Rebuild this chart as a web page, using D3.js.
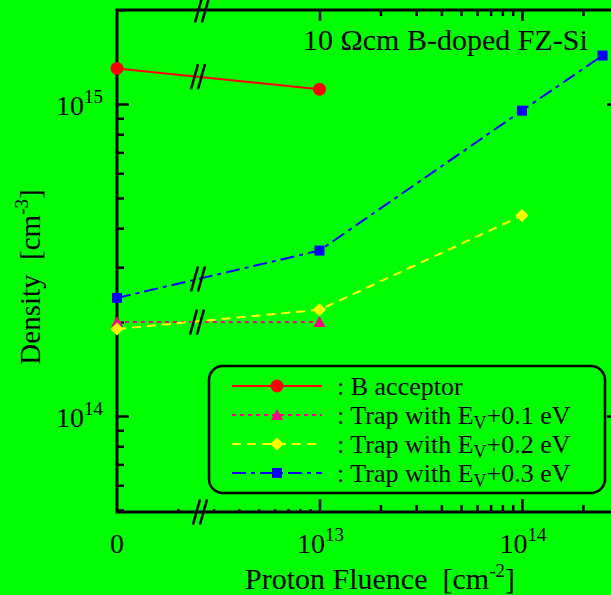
<!doctype html>
<html>
  <head>
    <meta charset="utf-8">
    <title>Density vs proton fluence</title>
    <script src="https://cdnjs.cloudflare.com/ajax/libs/d3/7.8.5/d3.min.js"></script>
    <style>
      body { margin: 0; background: #00ff00; }
      svg { display: block; font-family: "Liberation Serif", "Times New Roman", serif; }
    </style>
  </head>
  <body>
    <div id="chart"></div>
    <script>
      // fluence in cm^-2 (0 = unirradiated), density in cm^-3
      const fluence = [0, 1e13, 1e14, 2.5e14];
      const bAcceptor = [1.30e15, 1.115e15];
      const trap01 = [2.0e14, 2.0e14];
      const trap02 = [1.90e14, 2.19e14, 4.39e14];
      const trap03 = [2.39e14, 3.39e14, 9.52e14, 1.43e15];

      const seriesNames = [": B acceptor", ": Trap with E", ": Trap with E", ": Trap with E"];
      const seriesLevels = ["", "+0.1 eV", "+0.2 eV", "+0.3 eV"];
      const xTickLabels = [["0", ""], ["10", "13"], ["10", "14"]];
      const yTickLabels = [["10", "15"], ["10", "14"]];

      const W = 611, H = 595;
      const plotL = 117, plotR = 619, plotT = 10, plotB = 512;

      const svg = d3.select('#chart').append('svg')
        .attr('width', W).attr('height', H);

      svg.append('rect').attr('width', W).attr('height', H).attr('fill', '#00ff00');

      // log scales, zero fluence sits where 1e12 would be
      const x = d3.scaleLog().domain([1e12, 1e14]).range([plotL, 522]);
      const y = d3.scaleLog().domain([1e14, 1e15]).range([416, 104]);
      const fx = v => v === 0 ? x(1e12) : x(v);

      const series = [
        { vals: bAcceptor, color: '#ff0000', dash: null, marker: 'circle' },
        { vals: trap01, color: '#ff0080', dash: '4,4', marker: 'triangle' },
        { vals: trap02, color: '#ffff00', dash: '9,6', marker: 'diamond' },
        { vals: trap03, color: '#0000ff', dash: '14,5,4,5', marker: 'square' }
      ];

      // ---- axes (ticks only, frame drawn after)
      const majorX = [1e13, 1e14];
      const minorXlow = d3.range(2, 10).map(k => k * 1e12);
      const minorXhigh = d3.range(2, 10).map(k => k * 1e13).concat([2e14, 3e14]);
      const majorY = [1e14, 1e15];
      const minorY = d3.range(5, 10).map(k => k * 1e13)
        .concat(d3.range(2, 10).map(k => k * 1e14)).concat([2e15]);

      function tickAxis(axisFn, scale, vals, size, tx, ty) {
        const g = svg.append('g').attr('transform', `translate(${tx},${ty})`)
          .call(axisFn(scale).tickValues(vals).tickSize(size).tickFormat(''));
        g.select('.domain').remove();
        g.selectAll('line').attr('stroke', '#000').attr('stroke-width', 2.5);
        return g;
      }
      tickAxis(d3.axisBottom, x, majorX, -13, 0, plotB);
      tickAxis(d3.axisBottom, x, minorXhigh, -7, 0, plotB);
      tickAxis(d3.axisBottom, x, minorXlow, -3, 0, plotB);
      tickAxis(d3.axisTop, x, majorX, -11, 0, plotT);
      tickAxis(d3.axisTop, x, minorXhigh, -6, 0, plotT);
      tickAxis(d3.axisLeft, y, majorY, -12, plotL, 0);
      tickAxis(d3.axisLeft, y, minorY, -7, plotL, 0);
      tickAxis(d3.axisRight, y, majorY, -12, plotR, 0);
      tickAxis(d3.axisRight, y, minorY, -7, plotR, 0);

      svg.append('rect')
        .attr('x', plotL).attr('y', plotT)
        .attr('width', plotR - plotL).attr('height', plotB - plotT)
        .attr('fill', 'none').attr('stroke', '#000').attr('stroke-width', 3);

      // break marks
      function breakMark(cx, cy) {
        [-3.5, 3.5].forEach(dx => {
          svg.append('line')
            .attr('x1', cx + dx - 3.5).attr('y1', cy + 12.5)
            .attr('x2', cx + dx + 3.5).attr('y2', cy - 12.5)
            .attr('stroke', '#000').attr('stroke-width', 2.5);
        });
      }
      const xBreak = 200;
      breakMark(xBreak, plotB);
      breakMark(xBreak + 2, plotT);

      // ---- lines
      const line = d3.line().x((d, i) => fx(fluence[i])).y(d => y(d));
      series.forEach(s => {
        svg.append('path')
          .attr('d', line(s.vals))
          .attr('fill', 'none')
          .attr('stroke', s.color)
          .attr('stroke-width', 2)
          .attr('stroke-dasharray', s.dash);
      });

      // break marks on the data lines between 0 and 1e13
      function yAt(vals, px) {
        const x0 = fx(fluence[0]), x1 = fx(fluence[1]);
        const t = (px - x0) / (x1 - x0);
        return y(vals[0]) + t * (y(vals[1]) - y(vals[0]));
      }
      breakMark(198, yAt(bAcceptor, 198));
      breakMark(198, yAt(trap03, 198));
      breakMark(197, yAt(trap01, 197));

      // ---- markers
      function marker(g, type, color, cx, cy) {
        if (type === 'circle') {
          g.append('circle').attr('cx', cx).attr('cy', cy).attr('r', 6.5).attr('fill', color);
        } else if (type === 'square') {
          g.append('rect').attr('x', cx - 5).attr('y', cy - 5).attr('width', 10).attr('height', 10).attr('fill', color);
        } else if (type === 'diamond') {
          g.append('path').attr('d', `M${cx},${cy - 6.5}L${cx + 6.5},${cy}L${cx},${cy + 6.5}L${cx - 6.5},${cy}Z`).attr('fill', color);
        } else {
          g.append('path').attr('d', `M${cx},${cy - 6}L${cx + 6},${cy + 5}L${cx - 6},${cy + 5}Z`).attr('fill', color);
        }
      }
      series.forEach(s => {
        const g = svg.append('g');
        s.vals.forEach((v, i) => marker(g, s.marker, s.color, fx(fluence[i]), y(v)));
      });

      // ---- tick labels
      [0, 1e13, 1e14].forEach((v, i) => {
        const t = svg.append('text')
          .attr('x', fx(v) + (i ? 1 : 0)).attr('y', 553)
          .attr('text-anchor', 'middle').attr('font-size', 28);
        t.append('tspan').text(xTickLabels[i][0]);
        if (xTickLabels[i][1]) t.append('tspan').attr('dy', -12).attr('font-size', 19).text(xTickLabels[i][1]);
      });
      majorY.slice().reverse().forEach((v, i) => {
        const t = svg.append('text')
          .attr('x', 103).attr('y', y(v) + 11)
          .attr('text-anchor', 'end').attr('font-size', 28);
        t.append('tspan').text(yTickLabels[i][0]);
        t.append('tspan').attr('dy', -12).attr('font-size', 19).text(yTickLabels[i][1]);
      });

      // ---- axis titles
      const xt = svg.append('text').attr('x', 380).attr('y', 589)
        .attr('text-anchor', 'middle').attr('font-size', 30);
      xt.append('tspan').text('Proton Fluence\u00a0\u00a0[cm');
      xt.append('tspan').attr('dy', -12).attr('font-size', 19).text('-2');
      xt.append('tspan').attr('dy', 12).text(']');

      const yt = svg.append('text')
        .attr('transform', 'translate(40,277) rotate(-90)')
        .attr('text-anchor', 'middle').attr('font-size', 29);
      yt.append('tspan').text('Density\u00a0\u00a0[cm');
      yt.append('tspan').attr('dy', -12).attr('font-size', 19).text('-3');
      yt.append('tspan').attr('dy', 12).text(']');

      svg.append('text').attr('x', 303).attr('y', 50).attr('font-size', 30)
        .text('10 \u03a9cm B-doped FZ-Si');

      // ---- legend
      svg.append('rect')
        .attr('x', 209).attr('y', 366).attr('width', 396).attr('height', 127)
        .attr('rx', 14).attr('fill', 'none').attr('stroke', '#000').attr('stroke-width', 2.5);

      const rowY = [386, 415, 444, 473];
      series.forEach((s, i) => {
        const g = svg.append('g');
        g.append('line').attr('x1', 232).attr('x2', 322).attr('y1', rowY[i]).attr('y2', rowY[i])
          .attr('stroke', s.color).attr('stroke-width', 2).attr('stroke-dasharray', s.dash);
        marker(g, s.marker, s.color, 277, rowY[i]);
        const t = g.append('text').attr('x', 337).attr('y', rowY[i] + 9).attr('font-size', 26);
        t.append('tspan').text(seriesNames[i]);
        if (seriesLevels[i]) {
          t.append('tspan').attr('dy', 5).attr('font-size', 18).text('V');
          t.append('tspan').attr('dy', -5).text(seriesLevels[i]);
        }
      });
    </script>
  </body>
</html>
